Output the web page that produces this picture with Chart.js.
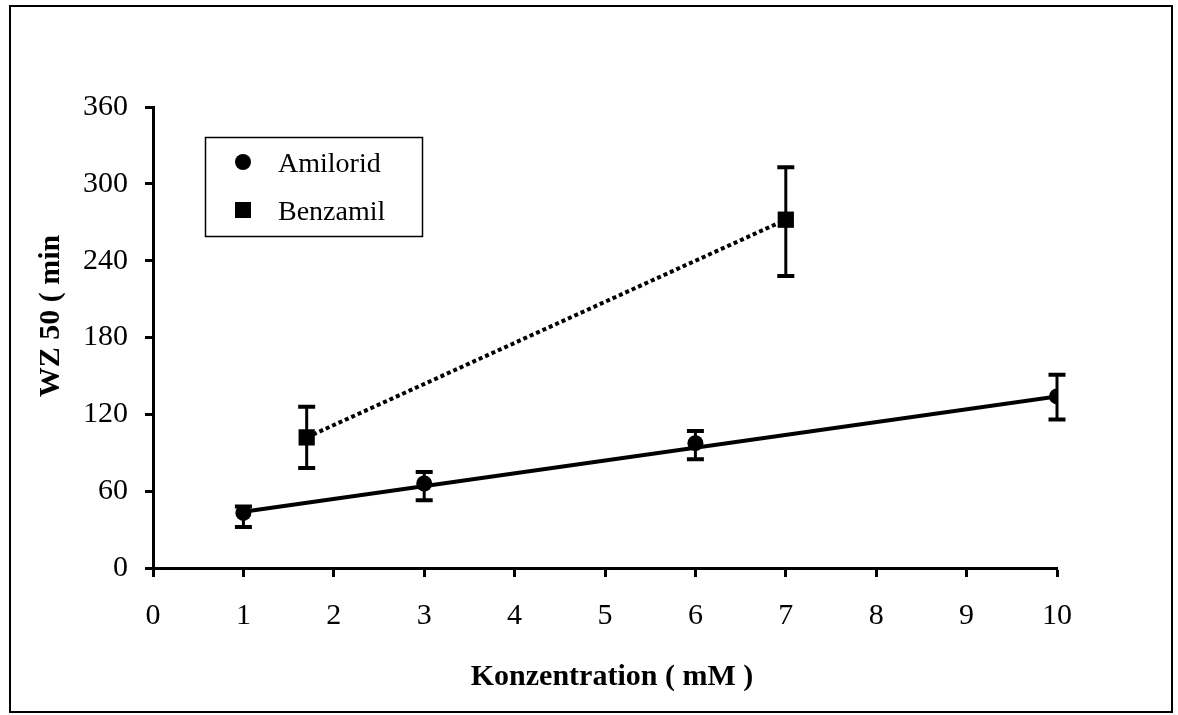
<!DOCTYPE html>
<html>
<head>
<meta charset="utf-8">
<script src="https://cdn.jsdelivr.net/npm/chart.js@4.4.1/dist/chart.umd.min.js"></script>
<style>
  body { margin: 0; background: #fff; }
  #grafico { display: block; }
</style>
</head>
<body>
<canvas id="grafico" width="1178" height="715"></canvas>
<script>
// datos
var amilorid_x = [1, 3, 6, 10];
var amilorid_y = [43, 66, 97.5, 134];
var amilorid_min = [32, 53, 85, 116];
var amilorid_max = [48, 75, 107, 151];

var benzamil_x = [1.7, 7];
var benzamil_y = [102, 272];
var benzamil_min = [78, 228];
var benzamil_max = [126, 313];

// linea de tendencia Amilorid
var tendencia_x = [1, 10];
var tendencia_y = [44, 134];

var x_ticks = [0, 1, 2, 3, 4, 5, 6, 7, 8, 9, 10];
var y_ticks = [0, 60, 120, 180, 240, 300, 360];

var titulo_x = 'Konzentration ( mM )';
var titulo_y = 'WZ 50 ( min';
var nombres = ['Amilorid', 'Benzamil'];

var fuente = 'Liberation Serif';

function puntos(xs, ys) {
    var res = [];
    for (var i = 0; i < xs.length; i++) {
        res.push({ x: xs[i], y: ys[i] });
    }
    return res;
}

var errores = [
    { xs: amilorid_x, min: amilorid_min, max: amilorid_max },
    { xs: benzamil_x, min: benzamil_min, max: benzamil_max }
];

var plugin_extra = {
    id: 'extra',
    beforeDraw: function (chart) {
        var c = chart.ctx;
        c.save();
        c.fillStyle = '#fff';
        c.fillRect(0, 0, chart.width, chart.height);
        c.restore();
    },
    beforeDatasetsDraw: function (chart) {
        var c = chart.ctx;
        var sx = chart.scales.x;
        var sy = chart.scales.y;
        c.save();
        c.strokeStyle = '#000';
        errores.forEach(function (e) {
            for (var i = 0; i < e.xs.length; i++) {
                var px = sx.getPixelForValue(e.xs[i]);
                var p1 = sy.getPixelForValue(e.min[i]);
                var p2 = sy.getPixelForValue(e.max[i]);
                c.lineWidth = 3;
                c.beginPath();
                c.moveTo(px, p1);
                c.lineTo(px, p2);
                c.stroke();
                c.lineWidth = 4;
                c.beginPath();
                c.moveTo(px - 8.5, p1);
                c.lineTo(px + 8.5, p1);
                c.moveTo(px - 8.5, p2);
                c.lineTo(px + 8.5, p2);
                c.stroke();
            }
        });
        c.restore();
    },
    afterDraw: function (chart) {
        var c = chart.ctx;
        var area = chart.chartArea;
        c.save();
        // marco exterior
        c.strokeStyle = '#000';
        c.lineWidth = 2;
        c.strokeRect(10, 6, 1162, 706);

        // titulos de ejes
        c.fillStyle = '#000';
        c.font = 'bold 30px "' + fuente + '"';
        c.textAlign = 'center';
        c.textBaseline = 'alphabetic';
        c.fillText(titulo_x, (area.left + area.right) / 2 + 7, 685);

        c.save();
        c.translate(59, 316);
        c.rotate(-Math.PI / 2);
        c.fillText(titulo_y, 0, 0);
        c.restore();

        // leyenda
        c.lineWidth = 1.5;
        c.strokeRect(205.5, 137.5, 217, 99);
        c.beginPath();
        c.arc(243, 162, 8, 0, Math.PI * 2);
        c.fill();
        c.fillRect(235, 202, 16, 16);
        c.font = '28px "' + fuente + '"';
        c.textAlign = 'left';
        c.fillText(nombres[0], 278, 172);
        c.fillText(nombres[1], 278, 220);
        c.restore();
    }
};

var ctx = document.getElementById('grafico').getContext('2d');
var chart = new Chart(ctx, {
    type: 'scatter',
    data: {
        datasets: [{
            label: nombres[0] + ' tendencia',
            data: puntos(tendencia_x, tendencia_y),
            showLine: true,
            borderColor: '#000',
            borderWidth: 4,
            pointRadius: 0
        }, {
            label: nombres[1],
            data: puntos(benzamil_x, benzamil_y),
            showLine: true,
            borderColor: '#000',
            borderWidth: 4,
            borderDash: [4, 3],
            pointStyle: 'rect',
            pointRadius: 11.5,
            pointBackgroundColor: '#000',
            pointBorderColor: '#000',
            pointBorderWidth: 0
        }, {
            label: nombres[0],
            data: puntos(amilorid_x, amilorid_y),
            showLine: false,
            pointStyle: 'circle',
            pointRadius: 8,
            pointBackgroundColor: '#000',
            pointBorderColor: '#000',
            pointBorderWidth: 0
        }]
    },
    options: {
        responsive: false,
        animation: false,
        devicePixelRatio: 1,
        layout: { padding: { left: 0, top: 107, right: 121, bottom: 0 } },
        plugins: {
            legend: { display: false },
            tooltip: { enabled: false }
        },
        scales: {
            x: {
                type: 'linear',
                min: x_ticks[0],
                max: x_ticks[x_ticks.length - 1],
                afterBuildTicks: function (s) { s.ticks = x_ticks.map(function (v) { return { value: v }; }); },
                afterFit: function (s) { s.height = 147; },
                border: { color: '#000', width: 3 },
                grid: { drawOnChartArea: false, drawTicks: true, tickLength: 9, tickWidth: 3, color: '#000' },
                ticks: { color: '#000', padding: 21, font: { family: fuente, size: 30 } }
            },
            y: {
                type: 'linear',
                min: y_ticks[0],
                max: y_ticks[y_ticks.length - 1],
                afterBuildTicks: function (s) { s.ticks = y_ticks.map(function (v) { return { value: v }; }); },
                afterFit: function (s) { s.width = 153; },
                border: { color: '#000', width: 3 },
                grid: { drawOnChartArea: false, drawTicks: true, tickLength: 8, tickWidth: 3, color: '#000' },
                ticks: { color: '#000', padding: 17, font: { family: fuente, size: 30 } }
            }
        }
    },
    plugins: [plugin_extra]
});
</script>
</body>
</html>
